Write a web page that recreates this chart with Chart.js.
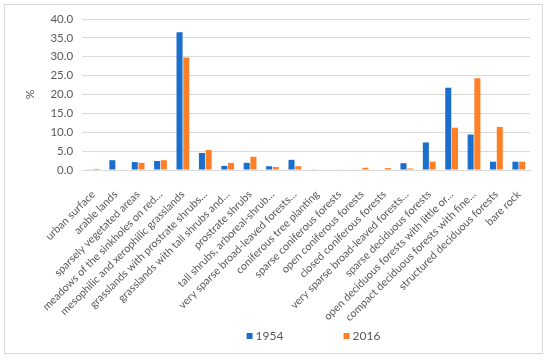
<!DOCTYPE html>
<html>
<head>
<meta charset="utf-8">
<script src="https://cdn.jsdelivr.net/npm/chart.js@4.4.1/dist/chart.umd.min.js"></script>
<style>
html,body{margin:0;padding:0;background:#fff;}
#wrap{position:relative;width:550px;height:360px;}
</style>
</head>
<body>
<div id="wrap"><canvas id="c" width="550" height="360"></canvas></div>
<script>
const categories = [
  "urban surface",
  "arable lands",
  "sparsely vegetated areas",
  "meadows of the sinkholes on red…",
  "mesophilic and xerophilic grasslands",
  "grasslands with prostrate shrubs…",
  "grasslands with tall shrubs and…",
  "prostrate shrubs",
  "tall shrubs, arboreal-shrub…",
  "very sparse broad-leaved forests…",
  "coniferous tree planting",
  "sparse coniferous forests",
  "open coniferous forests",
  "closed coniferous forests",
  "very sparse broad-leaved forests…",
  "sparse deciduous forests",
  "open deciduous forests with little or…",
  "compact deciduous forests with fine…",
  "structured deciduous forests",
  "bare rock"
];
const seriesNames = ["1954", "2016"];
const values1954 = [0.1, 2.6, 2.1, 2.4, 36.5, 4.5, 1.1, 1.9, 1.0, 2.7, 0.1, 0.0, 0.0, 0.0, 1.8, 7.3, 21.8, 9.4, 2.2, 2.2];
const values2016 = [0.3, 0.0, 1.9, 2.6, 29.8, 5.3, 1.9, 3.5, 0.8, 1.0, 0.0, 0.1, 0.6, 0.5, 0.4, 2.2, 11.2, 24.3, 11.4, 2.2];
const yTicks = [0, 5, 10, 15, 20, 25, 30, 35, 40];

const colors = ["#1a6fca", "#ff7f27"];
const textColor = "#595959";
const fontFamily = "Lato, 'Liberation Sans', sans-serif";

const borderPlugin = {
  id: 'outerBorder',
  beforeDraw(chart) {
    const ctx = chart.ctx;
    ctx.save();
    ctx.fillStyle = '#fff';
    ctx.fillRect(0, 0, chart.width, chart.height);
    ctx.strokeStyle = '#d9d9d9';
    ctx.lineWidth = 1;
    ctx.strokeRect(4.5, 4.5, 538, 349);
    ctx.restore();
  }
};

const legendPlugin = {
  id: 'customLegend',
  afterDraw(chart) {
    const ctx = chart.ctx;
    const ca = chart.chartArea;
    const cx = (ca.left + ca.right) / 2;
    const offsets = [-59.5, 37.5];
    const y = 336;
    ctx.save();
    ctx.font = "12px " + fontFamily;
    ctx.textBaseline = 'middle';
    ctx.textAlign = 'left';
    chart.data.datasets.forEach((ds, i) => {
      const x = cx + offsets[i];
      ctx.fillStyle = ds.backgroundColor;
      ctx.fillRect(x, y - 3, 6, 6);
      ctx.fillStyle = textColor;
      ctx.fillText(ds.label, x + 9, y);
    });
    ctx.restore();
  }
};

new Chart(document.getElementById('c'), {
  type: 'bar',
  data: {
    labels: categories,
    datasets: [
      { label: seriesNames[0], data: values1954, backgroundColor: colors[0], barPercentage: 0.9, categoryPercentage: 0.6 },
      { label: seriesNames[1], data: values2016, backgroundColor: colors[1], barPercentage: 0.9, categoryPercentage: 0.6 }
    ]
  },
  options: {
    responsive: false,
    animation: false,
    devicePixelRatio: 1,
    layout: { padding: { left: 19, right: 20, top: 19, bottom: 39 } },
    plugins: {
      legend: { display: false },
      tooltip: { enabled: false }
    },
    scales: {
      x: {
        grid: { display: false, drawTicks: false },
        border: { display: true, color: '#d9d9d9' },
        ticks: {
          autoSkip: false,
          minRotation: 45,
          maxRotation: 45,
          color: textColor,
          padding: 18,
          font: { family: fontFamily, size: 10.8 }
        }
      },
      y: {
        min: 0,
        max: 40,
        afterBuildTicks(scale) { scale.ticks = yTicks.map(v => ({ value: v })); },
        grid: { color: '#d9d9d9', drawTicks: false },
        border: { display: false },
        title: { display: true, text: '%', color: textColor, font: { family: fontFamily, size: 12 } },
        ticks: {
          color: textColor,
          padding: 9,
          font: { family: fontFamily, size: 11.5 },
          callback: v => Number(v).toFixed(1)
        }
      }
    }
  },
  plugins: [borderPlugin, legendPlugin]
});
</script>
</body>
</html>
